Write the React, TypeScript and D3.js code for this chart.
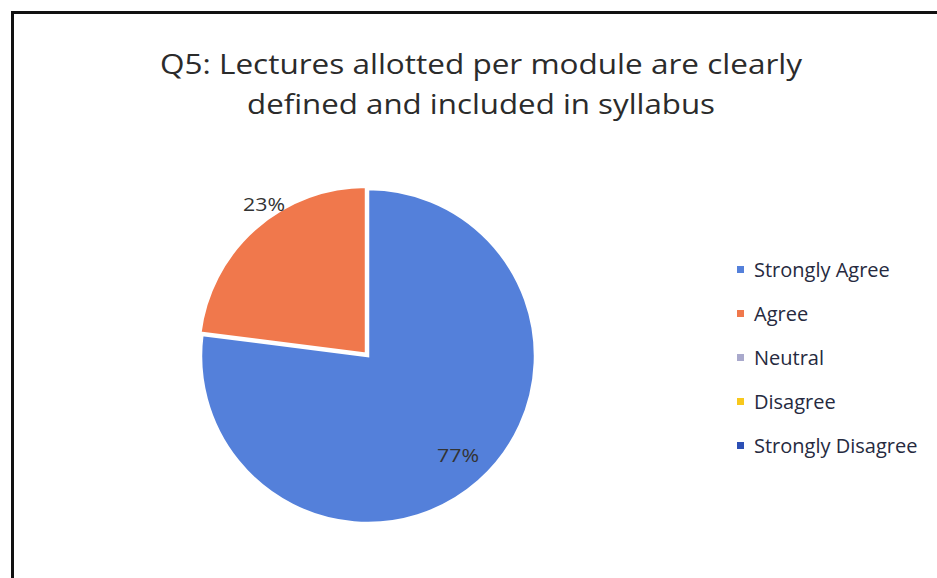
import React from "react";
import * as d3 from "d3";

const categories = ["Strongly Agree", "Agree", "Neutral", "Disagree", "Strongly Disagree"];
const values = [77, 23, 0, 0, 0];
const colors = ["#5480DA", "#F0784C", "#A9A9CC", "#F8C81C", "#2C4FB5"];
const titleLines = ["Q5: Lectures allotted per module are clearly", "defined and included in syllabus"];

export default function App() {
  const W = 937, H = 578;
  const cx = 368, cy = 356, r = 167;
  const pie = d3.pie<number>().sort(null).value((d) => d);
  const arcs = pie(values);
  const arc = d3.arc<d3.PieArcDatum<number>>().innerRadius(0).outerRadius(r);
  const legendY = d3.scalePoint<string>().domain(categories).range([270, 446]);
  const font = "'Open Sans', 'Noto Sans', sans-serif";
  return (
    <svg width={W} height={H} style={{ position: "absolute", left: 0, top: 0, background: "#fff" }}>
      <rect x={0} y={0} width={W} height={H} fill="#fff" />
      <path d={`M12.5,${H} L12.5,12.5 L${W},12.5`} fill="none" stroke="#111" strokeWidth={3} />
      {titleLines.map((t, i) => (
        <text key={i} x={481} y={74 + i * 40} textAnchor="middle" fontFamily={font} fontSize={28}
          fill="#2b2b2b" textLength={i === 0 ? 642 : 468} lengthAdjust="spacingAndGlyphs">{t}</text>
      ))}
      <g>
        {arcs.map((a, i) => {
          if (a.value === 0) return null;
          const mid = (a.startAngle + a.endAngle) / 2;
          const off = i === 1 ? 3 : 0;
          const dx = Math.sin(mid) * off, dy = -Math.cos(mid) * off;
          return (
            <path key={i} d={arc(a) || ""} transform={`translate(${cx + dx},${cy + dy})`}
              fill={colors[i]} stroke="#fff" strokeWidth={2.5} />
          );
        })}
        {arcs.map((a, i) => {
          if (a.value === 0) return null;
          const pos = i === 0 ? [458 - cx, 455 - cy] : [264 - cx, 204 - cy];
          return (
            <text key={"l" + i} x={cx + pos[0]} y={cy + pos[1] + 7} textAnchor="middle" fontFamily={font}
              fontSize={19} fill="#333" textLength={42} lengthAdjust="spacingAndGlyphs">{`${a.value}%`}</text>
          );
        })}
      </g>
      {categories.map((c, i) => {
        const y = legendY(c) as number;
        return (
          <g key={c}>
            <rect x={737} y={y - 4} width={7} height={7} fill={colors[i]} />
            <text x={754} y={y + 7} fontFamily={font} fontSize={20} fill="#262a40">{c}</text>
          </g>
        );
      })}
    </svg>
  );
}
